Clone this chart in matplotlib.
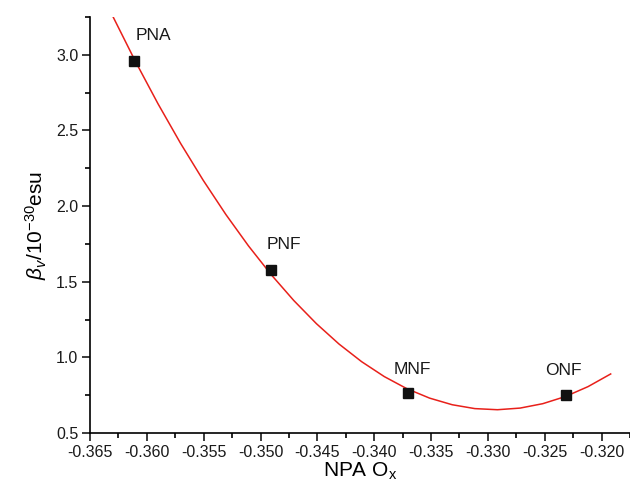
import numpy as np
import matplotlib.pyplot as plt
from matplotlib.ticker import MultipleLocator, FormatStrFormatter

plt.rcParams['font.family'] = ['Liberation Sans', 'DejaVu Sans']
plt.rcParams['mathtext.fontset'] = 'custom'
plt.rcParams['mathtext.rm'] = 'Liberation Sans'
plt.rcParams['mathtext.it'] = 'Liberation Sans:italic'

# дані
names = ['PNA', 'PNF', 'MNF', 'ONF']
npa = np.array([-0.3611, -0.3491, -0.3370, -0.3231])
beta = np.array([2.96, 1.578, 0.762, 0.751])

# квадратична апроксимація
coef = np.polyfit(npa, beta, 2)
x_fit = np.linspace(-0.365, -0.3192, 24)
y_fit = np.polyval(coef, x_fit)

fig = plt.figure(figsize=(6.3, 4.95), dpi=100)
ax = fig.add_axes([0.1429, 0.1253, 0.8571, 0.8404])

ax.plot(x_fit, y_fit, '-', color='#e8201a', lw=1.1, zorder=2)
ax.plot(npa, beta, 's', color='#111111', ms=7, zorder=3)

offsets = [(1, 13), (-3, 13), (3, 12), (-2, 12)]
aligns = ['left', 'left', 'center', 'center']
for n, x, y, off, ha in zip(names, npa, beta, offsets, aligns):
    ax.annotate(n, (x, y), xytext=off, textcoords='offset points',
                ha=ha, va='bottom', fontsize=12.5, color='#1a1a1a')

ax.set_xlim(-0.365, -0.3175)
ax.set_ylim(0.5, 3.25)
ax.xaxis.set_major_locator(MultipleLocator(0.005))
ax.xaxis.set_minor_locator(MultipleLocator(0.0025))
ax.yaxis.set_major_locator(MultipleLocator(0.5))
ax.yaxis.set_minor_locator(MultipleLocator(0.25))
ax.xaxis.set_major_formatter(FormatStrFormatter('%.3f'))
ax.yaxis.set_major_formatter(FormatStrFormatter('%.1f'))

for s in ['top', 'right']:
    ax.spines[s].set_visible(False)
for s in ['left', 'bottom']:
    ax.spines[s].set_linewidth(1.2)
ax.tick_params(which='major', direction='out', length=6, width=1.2, labelsize=11.5,
               colors='#1a1a1a', pad=2.5)
ax.tick_params(which='minor', direction='out', length=3.5, width=1.2)

ax.set_xlabel(r'NPA O$_\mathrm{x}$', fontsize=15, labelpad=1)
ax.set_ylabel(r'$\beta_v$/10$^{-30}$esu', fontsize=15, labelpad=5)

fig.savefig('out.png', dpi=100)
